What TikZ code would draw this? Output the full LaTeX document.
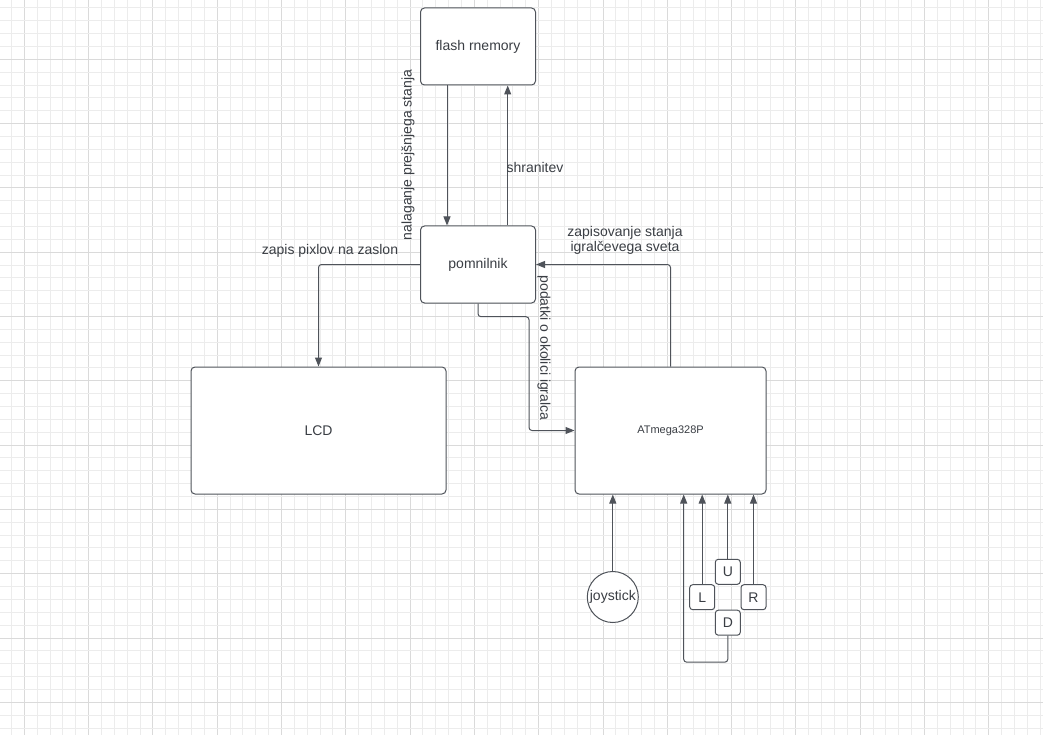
\documentclass[tikz,border=0pt]{standalone}
\usepackage{fontspec}
\setmainfont{Liberation Sans}
\usetikzlibrary{arrows.meta}
\definecolor{gridminor}{HTML}{ECECEC}
\definecolor{gridmajor}{HTML}{DADADA}
\definecolor{linecol}{HTML}{4F535A}
\definecolor{txtcol}{HTML}{3A3E44}
\begin{document}
\begin{tikzpicture}[x=1pt,y=-1pt,
  box/.style={draw=linecol, line width=1pt, fill=white, rounded corners=4pt,
    text=txtcol, font=\fontsize{14}{16}\selectfont, inner sep=0pt},
  keybox/.style={box, minimum width=25pt, minimum height=25pt, rounded corners=3pt},
  arr/.style={draw=linecol, line width=1pt, rounded corners=3pt,
    -{Triangle[length=9pt,width=7pt]}},
  lbl/.style={text=txtcol, font=\fontsize{14}{15}\selectfont, inner sep=0pt}]
\useasboundingbox (0,0) rectangle (1043,735);
\fill[white] (0,0) rectangle (1043,735);
% background grid
\foreach \i in {-2,...,80}{
  \pgfmathtruncatemacro{\m}{mod(\i+100,5)}
  \ifnum\m=0
    \draw[gridmajor, line width=1pt] ({24.3+\i*12.86},0) -- ({24.3+\i*12.86},735);
  \else
    \draw[gridminor, line width=1pt] ({24.3+\i*12.86},0) -- ({24.3+\i*12.86},735);
  \fi}
\foreach \j in {-5,...,53}{
  \pgfmathtruncatemacro{\m}{mod(\j+100,5)}
  \ifnum\m=0
    \draw[gridmajor, line width=1pt] (0,{59.3+\j*12.86}) -- (1043,{59.3+\j*12.86});
  \else
    \draw[gridminor, line width=1pt] (0,{59.3+\j*12.86}) -- (1043,{59.3+\j*12.86});
  \fi}

% blocks
\node[box, minimum width=115pt, minimum height=77pt] (flash) at (478,46.5) {flash rnemory};
\node[box, minimum width=115pt, minimum height=77pt] (pom) at (478,264.5) {pomnilnik};
\node[box, minimum width=255pt, minimum height=127pt] (lcd) at (318.5,430.5) {LCD};
\node[box, minimum width=191pt, minimum height=127pt,
      font=\fontsize{11}{13}\selectfont] (atm) at (670.5,430.5) {ATmega328P};
\node[box, circle, minimum size=51pt] (joy) at (612.8,597) {joystick};
\node[keybox] (U) at (727.8,571.8) {U};
\node[keybox] (L) at (702.2,597.2) {L};
\node[keybox] (R) at (753.5,597.2) {R};
\node[keybox] (D) at (727.8,622.7) {D};

% connectors
\draw[arr] ([xshift=-31pt]flash.south) -- ([xshift=-31pt]pom.north);
\draw[arr] ([xshift=29.7pt]pom.north) -- ([xshift=29.7pt]flash.south);
\draw[arr] (pom.west) -| (lcd.north);
\draw[arr] (atm.north) |- (pom.east);
\coordinate (podbend) at (529,316.7);
\draw[arr] (pom.south) |- (podbend) |- (atm.west);
\draw[arr] (joy.north) -- (joy.north |- atm.south);
\draw[arr] (L.north) -- (L.north |- atm.south);
\draw[arr] (U.north) -- (U.north |- atm.south);
\draw[arr] (R.north) -- (R.north |- atm.south);
\draw[arr] (D.south) -- ++(0,26.5) -| ([xshift=13.2pt]atm.south);

% connector labels
\node[lbl, rotate=90] (lnal) at (408,155) {nalaganje prejšnjega stanja};
\node[lbl] (lshr) at (535,167) {shranitev};
\node[lbl] (lzap) at (330,251) {zapis pixlov na zaslon};
\node[lbl, align=center] (lsta) at (625,240.8) {zapisovanje stanja\\igralčevega sveta};
\node[lbl, rotate=-90] (lpod) at (544,348) {podatki o okolici igralca};
\end{tikzpicture}
\end{document}
